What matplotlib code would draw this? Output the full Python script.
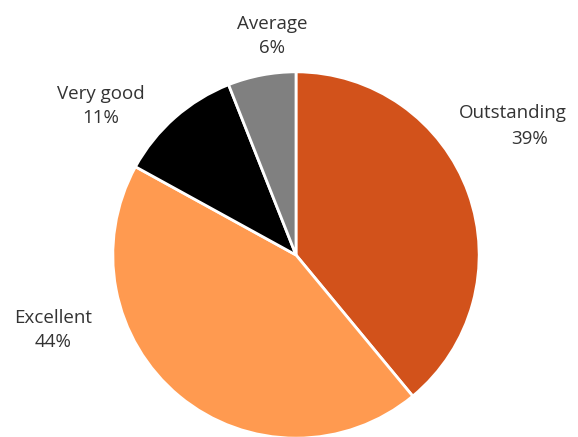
import matplotlib.pyplot as plt

# data
labels = ["Outstanding", "Excellent", "Very good", "Average"]
shares = [39, 44, 11, 6]
colors = ["#D2521B", "#FF9A50", "#000000", "#808080"]

plt.rcParams['font.family'] = ['Open Sans', 'DejaVu Sans']

W, H = 578, 437
fig = plt.figure(figsize=(W / 100, H / 100), dpi=100)

# pie centre at (296, 255) px from top-left, radius 185 px
cx, cy, r = 296, 437 - 255, 185
ax = fig.add_axes([(cx - r) / W, (cy - r) / H, 2 * r / W, 2 * r / H])
ax.pie(shares, colors=colors, startangle=90, counterclock=False,
       wedgeprops=dict(edgecolor="white", linewidth=2))
ax.set_xlim(-1.01, 1.01)
ax.set_ylim(-1.01, 1.01)
ax.set_aspect("equal")
ax.axis("off")

# label positions (px, from top-left) - centre of the two-line block
label_pos = [(513, 126), (53, 330), (101, 106), (272, 36)]
fs = 13.5
for (x, y), lab, val in zip(label_pos, labels, shares):
    if lab == "Outstanding":
        fig.text(x / W, 1 - 113 / H, lab, ha="center", va="center",
                 fontsize=fs, color="#333333")
        fig.text(530 / W, 1 - 139 / H, f"{val}%", ha="center", va="center",
                 fontsize=fs, color="#333333")
    else:
        fig.text(x / W, 1 - y / H, f"{lab}\n{val}%", ha="center", va="center",
                 fontsize=fs, color="#333333", linespacing=1.45)

fig.savefig("out.png", dpi=100)
